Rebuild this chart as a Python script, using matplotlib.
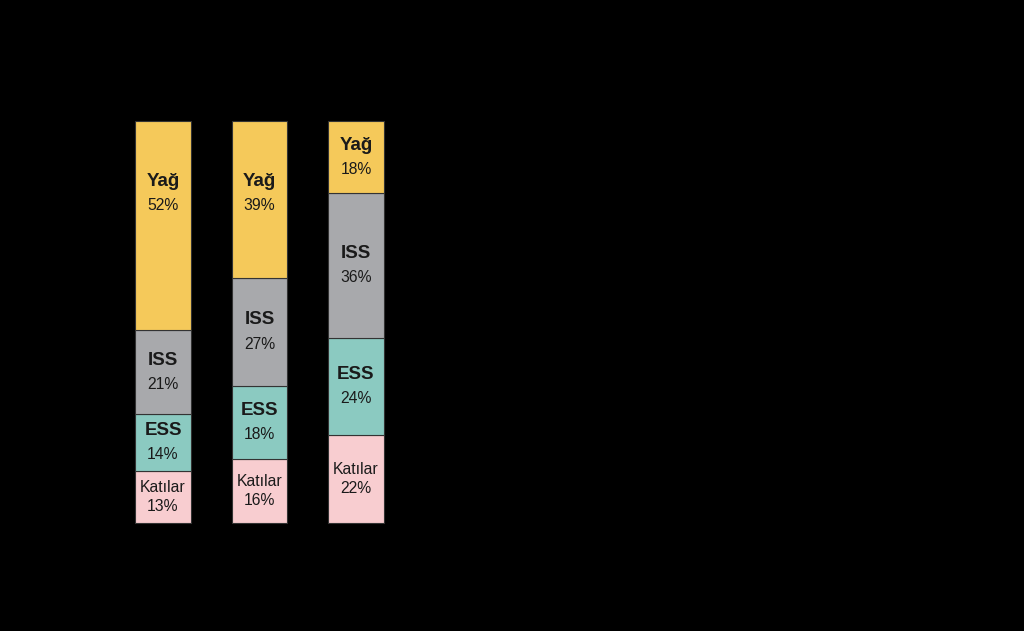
import matplotlib.pyplot as plt
import numpy as np

plt.rcParams['font.family'] = ['Liberation Sans', 'DejaVu Sans']

# three samples, stacked composition (%) from bottom to top
components = ['Katılar', 'ESS', 'ISS', 'Yağ']
katilar = [13, 16, 22]
ess = [14, 18, 24]
iss = [21, 27, 36]
yag = [52, 39, 18]
colors = ['#F8CDD0', '#8BCAC1', '#A8A9AC', '#F5C95A']

series = [katilar, ess, iss, yag]
x = np.arange(len(yag))

fig = plt.figure(figsize=(10.24, 6.31), dpi=100, facecolor='black')
ax = fig.add_axes([0, 0, 1, 1])
ax.set_facecolor('black')

bottom = np.zeros(len(x))
for name, vals, col in zip(components, series, colors):
    vals = np.array(vals, dtype=float)
    ax.bar(x, vals, width=0.58, bottom=bottom, color=col,
           edgecolor='#333333', linewidth=0.8)
    for xi, b, v in zip(x, bottom, vals):
        top = b + v
        # keep label near the top when the segment is tall
        yc = max(b + v / 2, top - 18)
        bold = name != 'Katılar'
        gap = 3.0 if bold else 2.3
        ax.text(xi, yc + gap, name, ha='center', va='center',
                fontsize=13.5 if bold else 11.3,
                fontweight='bold' if bold else 'normal', color='#1a1a1a')
        ax.text(xi, yc - gap, f'{int(v)}%', ha='center', va='center',
                fontsize=11.3, color='#1a1a1a')
    bottom += vals

# map data to the pixel layout of the figure
px = 96.5
ax.set_xlim(-163 / px, -163 / px + 1024 / px)
ax.set_ylim(-108 / 4.02, -108 / 4.02 + 631 / 4.02)
ax.axis('off')

fig.savefig('out.png', dpi=100, facecolor='black')
